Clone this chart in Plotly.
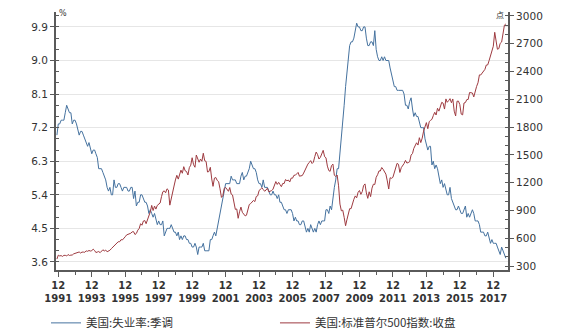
import plotly.graph_objects as go
import pandas as pd

start_month = "1991-11-01"

unemployment = [
    7.0, 7.3,
    7.3, 7.4, 7.4, 7.4, 7.6, 7.8, 7.7, 7.6, 7.6, 7.3, 7.4, 7.4,
    7.3, 7.1, 7.0, 7.1, 7.1, 7.0, 6.9, 6.8, 6.7, 6.8, 6.6, 6.5,
    6.6, 6.6, 6.5, 6.4, 6.1, 6.1, 6.1, 6.0, 5.9, 5.8, 5.6, 5.5,
    5.6, 5.4, 5.4, 5.8, 5.6, 5.6, 5.7, 5.7, 5.6, 5.5, 5.6, 5.6,
    5.6, 5.5, 5.5, 5.6, 5.6, 5.3, 5.5, 5.1, 5.2, 5.2, 5.4, 5.4,
    5.3, 5.2, 5.2, 5.1, 4.9, 5.0, 4.9, 4.8, 4.9, 4.7, 4.6, 4.7,
    4.6, 4.6, 4.7, 4.3, 4.4, 4.5, 4.5, 4.5, 4.6, 4.5, 4.4, 4.4,
    4.3, 4.4, 4.2, 4.3, 4.2, 4.3, 4.3, 4.2, 4.2, 4.1, 4.1, 4.0,
    4.0, 4.1, 4.0, 3.8, 4.0, 4.0, 4.0, 4.1, 3.9, 3.9, 3.9, 3.9,
    4.2, 4.2, 4.3, 4.4, 4.3, 4.5, 4.6, 4.9, 5.0, 5.3, 5.5, 5.7,
    5.7, 5.7, 5.7, 5.9, 5.8, 5.8, 5.8, 5.7, 5.7, 5.7, 5.9, 6.0,
    5.8, 5.9, 5.9, 6.0, 6.1, 6.3, 6.2, 6.1, 6.1, 6.0, 5.8, 5.7,
    5.7, 5.6, 5.8, 5.6, 5.6, 5.6, 5.5, 5.4, 5.4, 5.5, 5.4, 5.4,
    5.3, 5.4, 5.2, 5.2, 5.1, 5.0, 5.0, 4.9, 5.0, 5.0, 5.0, 4.9,
    4.7, 4.8, 4.7, 4.7, 4.6, 4.6, 4.7, 4.7, 4.5, 4.4, 4.5, 4.4,
    4.6, 4.5, 4.4, 4.5, 4.4, 4.6, 4.7, 4.6, 4.7, 4.7, 4.7, 5.0,
    5.0, 4.9, 5.1, 5.0, 5.4, 5.6, 5.8, 6.1, 6.1, 6.5, 6.8, 7.3,
    7.8, 8.3, 8.7, 9.0, 9.4, 9.5, 9.5, 9.6, 9.8, 10.0, 9.9, 9.9,
    9.8, 9.8, 9.9, 9.9, 9.6, 9.4, 9.4, 9.5, 9.5, 9.4, 9.8, 9.3,
    9.1, 9.0, 9.0, 9.1, 9.0, 9.1, 9.0, 9.0, 9.0, 8.8, 8.6, 8.5,
    8.3, 8.3, 8.2, 8.2, 8.2, 8.2, 8.2, 8.1, 7.8, 7.8, 7.7, 7.9,
    8.0, 7.7, 7.5, 7.6, 7.5, 7.5, 7.3, 7.2, 7.2, 7.2, 6.9, 6.7,
    6.6, 6.7, 6.7, 6.2, 6.3, 6.1, 6.2, 6.1, 5.9, 5.7, 5.8, 5.6,
    5.7, 5.5, 5.4, 5.4, 5.6, 5.3, 5.2, 5.1, 5.0, 5.0, 5.1, 5.0,
    4.9, 4.9, 5.0, 5.1, 4.8, 4.9, 4.8, 4.9, 5.0, 4.9, 4.7, 4.7,
    4.7, 4.6, 4.4, 4.4, 4.4, 4.3, 4.3, 4.4, 4.2, 4.1, 4.2, 4.1,
    4.1, 4.1, 4.0, 3.9, 3.8, 4.0, 3.9, 3.8, 3.7,
]

sp500 = [
    375.22, 417.09,
    408.79, 412.70, 403.69, 414.95, 415.35, 408.14, 424.21, 414.03, 417.80, 418.68, 431.35, 435.71,
    438.78, 443.38, 451.67, 440.19, 450.19, 450.53, 448.13, 463.56, 458.93, 467.83, 461.79, 466.45,
    481.61, 467.14, 445.77, 450.91, 456.50, 444.27, 458.26, 475.49, 462.69, 472.35, 453.69, 459.27,
    470.42, 487.39, 500.71, 514.71, 533.40, 544.75, 562.06, 561.88, 584.41, 581.50, 605.37, 615.93,
    636.02, 640.43, 645.50, 654.17, 669.12, 670.63, 639.95, 651.99, 687.33, 705.27, 757.02, 740.74,
    786.16, 790.82, 757.12, 801.34, 848.28, 885.14, 954.31, 899.47, 947.28, 914.62, 955.40, 970.43,
    980.28, 1049.34, 1101.75, 1111.75, 1090.82, 1133.84, 1120.67, 957.28, 1017.01, 1098.67, 1163.63, 1229.23,
    1279.64, 1238.33, 1286.37, 1335.18, 1301.84, 1372.71, 1328.72, 1320.41, 1282.71, 1362.93, 1388.91, 1469.25,
    1394.46, 1366.42, 1498.58, 1452.43, 1420.60, 1454.60, 1430.83, 1517.68, 1436.51, 1429.40, 1314.95, 1320.28,
    1366.01, 1239.94, 1160.33, 1249.46, 1255.82, 1224.38, 1211.23, 1133.58, 1040.94, 1059.78, 1139.45, 1148.08,
    1130.20, 1106.73, 1147.39, 1076.92, 1067.14, 989.82, 911.62, 916.07, 815.28, 885.76, 936.31, 879.82,
    855.70, 841.15, 848.18, 916.92, 963.59, 974.50, 990.31, 1008.01, 995.97, 1050.71, 1058.20, 1111.92,
    1131.13, 1144.94, 1126.21, 1107.30, 1120.68, 1140.84, 1101.72, 1104.24, 1114.58, 1130.20, 1173.82, 1211.92,
    1181.27, 1203.60, 1180.59, 1156.85, 1191.50, 1191.33, 1234.18, 1220.33, 1228.81, 1207.01, 1249.48, 1248.29,
    1280.08, 1280.66, 1294.83, 1310.61, 1270.09, 1270.20, 1276.66, 1303.82, 1335.85, 1377.94, 1400.63, 1418.30,
    1438.24, 1406.82, 1420.86, 1482.37, 1530.62, 1503.35, 1455.27, 1473.99, 1526.75, 1549.38, 1481.14, 1468.36,
    1378.55, 1330.63, 1322.70, 1385.59, 1400.38, 1280.00, 1267.38, 1282.83, 1166.36, 968.75, 896.24, 903.25,
    825.88, 735.09, 797.87, 872.81, 919.14, 919.32, 987.48, 1020.62, 1057.08, 1036.19, 1095.63, 1115.10,
    1073.87, 1104.49, 1169.43, 1186.69, 1089.41, 1030.71, 1101.60, 1049.33, 1141.20, 1183.26, 1180.55, 1257.64,
    1286.12, 1327.22, 1325.83, 1363.61, 1345.20, 1320.64, 1292.28, 1218.89, 1131.42, 1253.30, 1246.96, 1257.60,
    1312.41, 1365.68, 1408.47, 1397.91, 1310.33, 1362.16, 1379.32, 1406.58, 1440.67, 1412.16, 1416.18, 1426.19,
    1498.11, 1514.68, 1569.19, 1597.57, 1630.74, 1606.28, 1685.73, 1632.97, 1681.55, 1756.54, 1805.81, 1848.36,
    1782.59, 1859.45, 1872.34, 1883.95, 1923.57, 1960.23, 1930.67, 2003.37, 1972.29, 2018.05, 2067.56, 2058.90,
    1994.99, 2104.50, 2067.89, 2085.51, 2107.39, 2063.11, 2103.84, 1972.18, 1920.03, 2079.36, 2080.41, 2043.94,
    1940.24, 1932.23, 2059.74, 2065.30, 2096.95, 2098.86, 2173.60, 2170.95, 2168.27, 2126.15, 2198.81, 2238.83,
    2278.87, 2363.64, 2362.72, 2384.20, 2411.80, 2423.41, 2470.30, 2471.65, 2519.36, 2575.26, 2647.58, 2673.61,
    2823.81, 2713.83, 2640.87, 2648.05, 2705.27, 2718.37, 2816.29, 2901.52, 2913.98,
]

months = pd.date_range(start_month, periods=len(unemployment), freq="MS")

tick_years = [1991, 1993, 1995, 1997, 1999, 2001, 2003, 2005, 2007, 2009, 2011, 2013, 2015, 2017]
tick_month_label = "12"
tick_dates = [f"{y}-12-01" for y in tick_years]
tick_text = [f"{tick_month_label}<br>{y}" for y in tick_years]

left_ticks = [3.6, 4.5, 5.4, 6.3, 7.2, 8.1, 9.0, 9.9]
right_ticks = [300, 600, 900, 1200, 1500, 1800, 2100, 2400, 2700, 3000]

name_ur = "美国:失业率:季调"
name_sp = "美国:标准普尔500指数:收盘"

BLUE = "#45729f"
RED = "#9e3a40"
AXIS = "#5a5a5a"
TXT = "#333333"

fig = go.Figure()
fig.add_trace(go.Scatter(x=months, y=unemployment, name=name_ur, mode="lines",
                         line=dict(color=BLUE, width=1), yaxis="y", legend="legend"))
fig.add_trace(go.Scatter(x=months, y=sp500, name=name_sp, mode="lines",
                         line=dict(color=RED, width=1), yaxis="y2", legend="legend2"))

num_font = dict(family="DejaVu Sans", size=10.5, color=TXT)
leg_font = dict(family="Noto Sans CJK SC", size=11.5, color=TXT)

fig.update_layout(
    width=582, height=333,
    margin=dict(l=56, r=74, t=12, b=63, autoexpand=False),
    paper_bgcolor="white", plot_bgcolor="white",
    showlegend=True,
    legend=dict(orientation="h", x=-0.0221, xanchor="left", y=-0.205, yanchor="middle",
                font=leg_font, itemwidth=30, bgcolor="rgba(0,0,0,0)"),
    legend2=dict(orientation="h", x=0.4845, xanchor="left", y=-0.205, yanchor="middle",
                 font=leg_font, itemwidth=30, bgcolor="rgba(0,0,0,0)"),
    xaxis=dict(
        type="date", range=["1991-10-12", "2018-10-18"],
        tickmode="array", tickvals=tick_dates, ticktext=tick_text,
        ticks="outside", ticklen=5, tickwidth=1, tickcolor=AXIS,
        showline=True, linecolor=AXIS, linewidth=2,
        showgrid=False, zeroline=False,
        tickfont=dict(family="DejaVu Sans", size=10, color=TXT, weight="bold"),
        minor=dict(dtick="M12", tick0="1991-12-01", ticks="outside", ticklen=3,
                   tickcolor=AXIS, showgrid=False),
    ),
    yaxis=dict(
        range=[3.385, 10.30], tickmode="array", tickvals=left_ticks,
        ticktext=[f"{v:.1f}" for v in left_ticks],
        ticks="outside", ticklen=4, tickcolor=AXIS,
        showline=True, linecolor=AXIS, linewidth=2,
        showgrid=True, gridcolor="#e6e6e6", gridwidth=1, zeroline=False,
        tickfont=num_font,
        minor=dict(dtick=0.3, tick0=3.6, ticks="inside", ticklen=3, tickcolor=AXIS, showgrid=False),
    ),
    yaxis2=dict(
        overlaying="y", side="right", range=[257, 3043],
        tickmode="array", tickvals=right_ticks,
        ticks="outside", ticklen=4, tickcolor=AXIS,
        showline=True, linecolor=AXIS, linewidth=2,
        showgrid=False, zeroline=False,
        tickfont=num_font,
        minor=dict(dtick=100, tick0=300, ticks="inside", ticklen=3, tickcolor=AXIS, showgrid=False),
    ),
    annotations=[
        dict(text="%", xref="paper", yref="paper", x=0.0, y=1.0, xanchor="left", yanchor="bottom",
             showarrow=False, font=dict(family="DejaVu Sans", size=8, color=TXT), xshift=1, yshift=-8),
        dict(text="点", xref="paper", yref="paper", x=1.0, y=1.0, xanchor="right", yanchor="bottom",
             showarrow=False, font=dict(family="Noto Sans CJK SC", size=8, color=TXT), xshift=-2, yshift=-10),
    ],
)

fig.write_html("out.html")
